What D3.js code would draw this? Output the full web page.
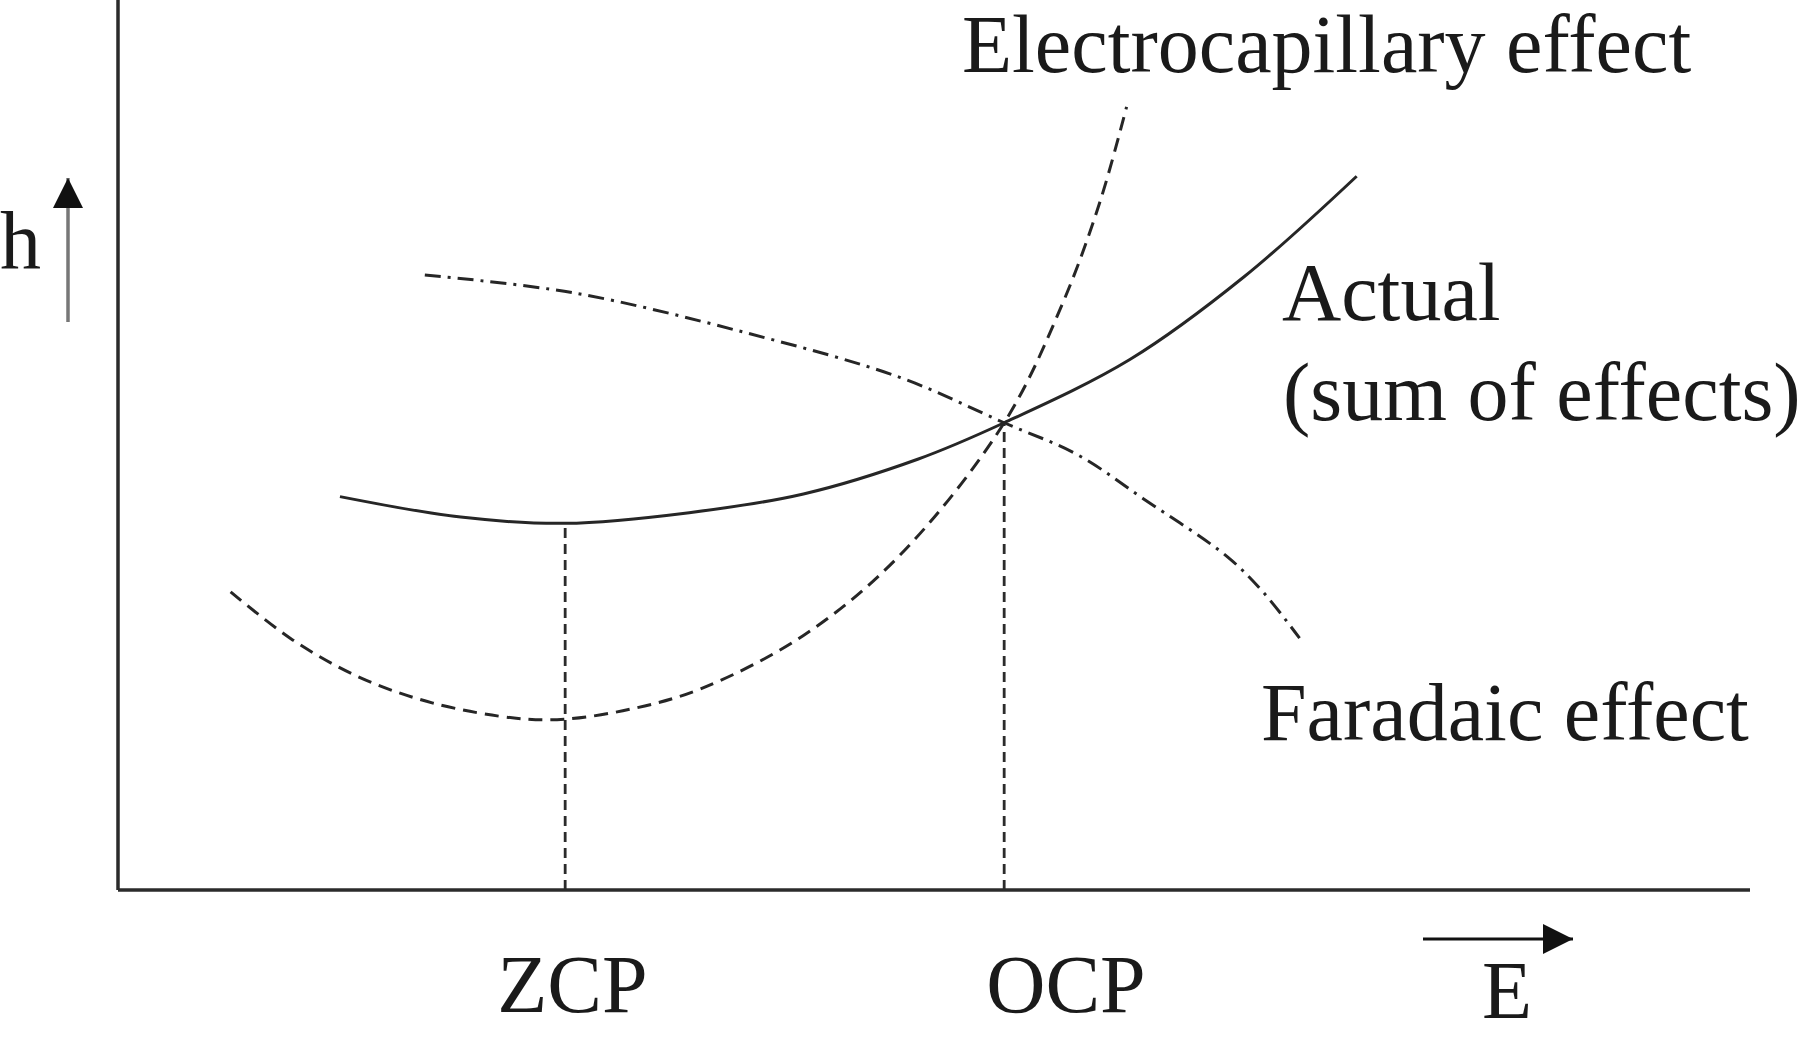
<!DOCTYPE html>
<html lang="en">
<head>
    <meta charset="UTF-8">
    <title>Electrocapillary vs Faradaic effect</title>
    <style>
        body {
            margin: 0;
            background: #fff;
        }

        text {
            font-family: "Liberation Serif", "Times New Roman", serif;
            font-size: 82px;
            fill: #1a1a1a;
        }

        .axis {
            stroke: #2b2b2b;
            stroke-width: 3.5px;
        }

        .curve {
            fill: none;
            stroke: #262626;
            stroke-width: 3px;
        }
    </style>
</head>
<body>
    <svg width="1800" height="1037"></svg>

    <script src="https://d3js.org/d3.v7.min.js"></script>
    <script>
        // potential E (0..100) and mercury height h (0..100)
        var actualE = [13.6, 21.0, 27.4, 35.0, 42.0, 49.0, 54.3, 62.0, 69.0, 75.9];
        var actualH = [44.2, 41.9, 41.2, 42.4, 44.5, 48.4, 52.5, 59.6, 68.9, 80.2];

        var capE = [6.9, 10.7, 14.8, 19.3, 24.4, 27.4, 31.6, 35.7, 42.0, 47.9, 54.3, 57.9, 60.2, 61.8];
        var capH = [33.5, 28.1, 23.9, 21.0, 19.3, 19.2, 20.4, 22.6, 28.6, 37.6, 52.5, 66.0, 77.5, 88.0];

        var faradE = [18.8, 27.9, 38.5, 47.9, 54.3, 58.8, 62.8, 68.0, 70.2, 72.4];
        var faradH = [69.1, 67.1, 62.6, 57.6, 52.5, 48.9, 44.0, 37.4, 33.4, 28.3];

        var markerNames = ["ZCP", "OCP"];
        var markerE = [27.4, 54.3];
        var markerH = [41.2, 52.5];

        var svg = d3.select("svg");

        var x = d3.scaleLinear().domain([0, 100]).range([118, 1750]);
        var y = d3.scaleLinear().domain([0, 100]).range([890, 0]);

        function zip(es, hs) {
            return es.map(function (e, i) { return [e, hs[i]]; });
        }

        var line = d3.line()
            .x(function (d) { return x(d[0]); })
            .y(function (d) { return y(d[1]); })
            .curve(d3.curveCatmullRom.alpha(0.5));

        // arrow head
        svg.append("defs").append("marker")
            .attr("id", "head")
            .attr("viewBox", "0 0 10 10")
            .attr("refX", 10)
            .attr("refY", 5)
            .attr("markerUnits", "userSpaceOnUse")
            .attr("markerWidth", 30)
            .attr("markerHeight", 30)
            .attr("orient", "auto")
            .append("path")
            .attr("d", "M0,0 L10,5 L0,10 Z")
            .attr("fill", "#111");

        // axes
        svg.append("line").attr("class", "axis")
            .attr("x1", x(0)).attr("x2", x(0))
            .attr("y1", y(100)).attr("y2", y(0));
        svg.append("line").attr("class", "axis")
            .attr("x1", x(0)).attr("x2", x(100))
            .attr("y1", y(0)).attr("y2", y(0));

        // vertical guides at ZCP / OCP
        svg.selectAll(".guide")
            .data(markerE)
            .enter().append("line")
            .attr("class", "guide")
            .attr("x1", function (d) { return x(d); })
            .attr("x2", function (d) { return x(d); })
            .attr("y1", y(0))
            .attr("y2", function (d, i) { return y(markerH[i]); })
            .attr("stroke", "#2b2b2b")
            .attr("stroke-width", 2.8)
            .attr("stroke-dasharray", "10,6");

        // curves
        svg.append("path").attr("class", "curve")
            .attr("d", line(zip(capE, capH)))
            .attr("stroke-dasharray", "14,8");

        svg.append("path").attr("class", "curve")
            .attr("d", line(zip(faradE, faradH)))
            .attr("stroke-dasharray", "16,7,3,7");

        svg.append("path").attr("class", "curve")
            .attr("d", line(zip(actualE, actualH)));

        // marker labels under the axis
        svg.selectAll(".mlabel")
            .data(markerNames)
            .enter().append("text")
            .attr("class", "mlabel")
            .attr("x", function (d, i) { return x(markerE[i]) - 68 + i * 50; })
            .attr("y", 1012)
            .text(function (d) { return d; });

        // curve labels
        svg.append("text").attr("x", 962).attr("y", 72).text("Electrocapillary effect");
        svg.append("text").attr("x", 1282).attr("y", 320).text("Actual");
        svg.append("text").attr("x", 1283).attr("y", 420).text("(sum of effects)");
        svg.append("text").attr("x", 1261).attr("y", 740).text("Faradaic effect");

        // axis names with arrows
        svg.append("text").attr("x", 0).attr("y", 268).text("h");
        svg.append("line")
            .attr("x1", 68).attr("x2", 68)
            .attr("y1", 322).attr("y2", 178)
            .attr("stroke", "#777")
            .attr("stroke-width", 3.5)
            .attr("marker-end", "url(#head)");

        svg.append("text").attr("x", 1482).attr("y", 1018).text("E");
        svg.append("line")
            .attr("x1", 1423).attr("x2", 1573)
            .attr("y1", 939).attr("y2", 939)
            .attr("stroke", "#111")
            .attr("stroke-width", 3)
            .attr("marker-end", "url(#head)");
    </script>
</body>
</html>
